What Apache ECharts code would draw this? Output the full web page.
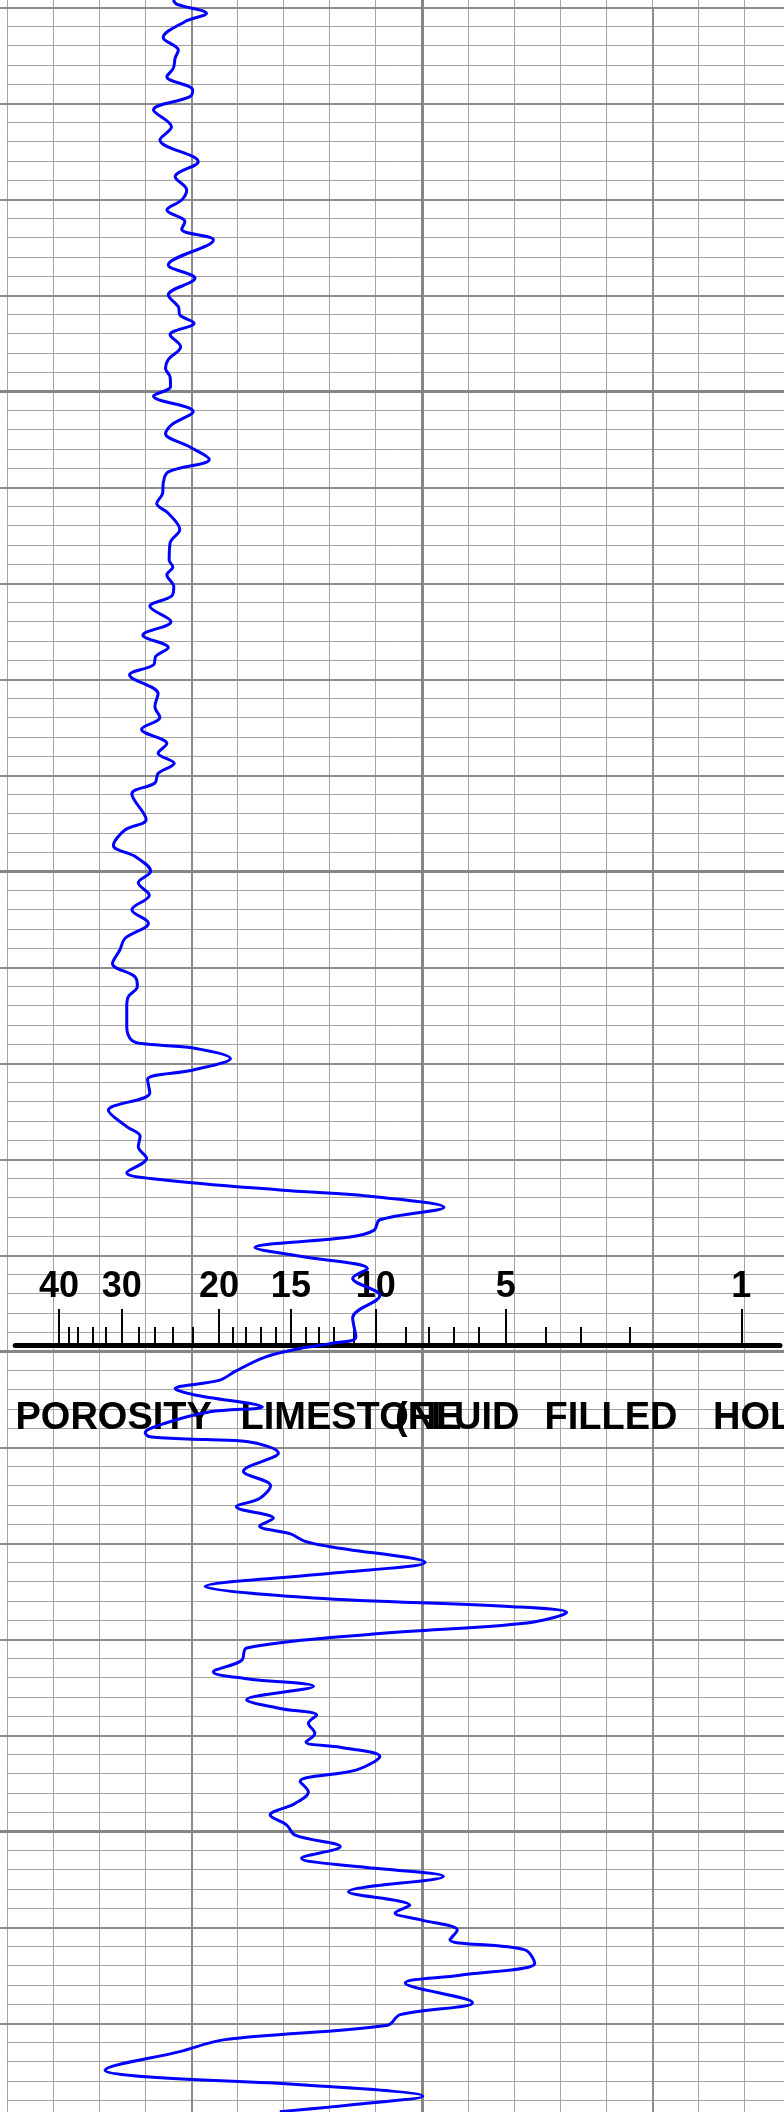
<!DOCTYPE html>
<html>
<head>
<meta charset="utf-8">
<script src="https://cdn.jsdelivr.net/npm/echarts@6/dist/echarts.min.js"></script>
<style>
html, body { margin: 0; padding: 0; background: #ffffff; }
#chart { width: 784px; height: 2112px; }
</style>
</head>
<body>
<div id="chart"></div>
<script>
// ---------------- DATA ----------------
// Depth (ft, relative to first grid line) of each curve reading
const depthFt = [
  -0.76, -0.34, 0.63, 1.5, 3.16, 4.45, 5.28, 6.35, 7.23, 8.61,
  9.31, 10.7, 12.44, 13.82, 16.08, 17.65, 19.03, 20.07, 21.11, 22.33,
  23.13, 24.24, 26.84, 28.23, 29.97, 31.2, 32.05, 32.9, 34.1, 35.35,
  36.7, 37.6, 38.5, 39.5, 40.5, 42.1, 43.5, 44.4, 45.8, 47.1,
  48.4, 49.6, 50.6, 51.7, 52.7, 54.4, 55.8, 57.6, 58.3, 59.1,
  60.35, 61.3, 62.4, 64.0, 65.4, 66.7, 67.6, 68.5, 69.55, 71.5,
  72.85, 73.96, 75.2, 76.7, 77.7, 78.75, 79.8, 80.8, 81.95, 84.6,
  85.7, 87.3, 88.5, 90.0, 91.2, 92.5, 94.0, 95.4, 97.0, 98.2,
  99.6, 101.0, 102.0, 103.1, 104.1, 106.2, 107.6, 108.0, 108.4, 109.5,
  110.7, 111.7, 113.1, 114.9, 116.6, 117.6, 118.7, 119.9, 121.4, 122.1,
  123.2, 123.9, 125.0, 126.3, 127.4, 128.1, 129.2, 130.1, 131.4, 132.4,
  134.2, 136.5, 138.5, 139.2, 139.7, 140.6, 142.1, 143.0, 143.9, 144.55,
  145.8, 146.3, 147.5, 148.5, 148.9, 149.2, 149.4, 150.6, 152.5, 154.0,
  155.3, 156.2, 157.4, 158.2, 159.0, 159.8, 160.35, 162.0, 163.1, 164.5,
  165.7, 166.6, 167.2, 168.3, 169.4, 170.9, 172.2, 173.4, 174.1, 174.9,
  176.3, 177.2, 177.9, 178.75, 179.8, 180.7, 181.25, 182.2, 183.6, 184.8,
  185.9, 187.1, 188.3, 189.35, 190.4, 191.6, 192.8, 193.7, 194.7, 196.3,
  197.7, 198.5, 199.2, 200.3, 201.3, 202.35, 203.75, 205.0, 205.8, 207.85,
  209.1, 210.2, 211.7, 212.95, 214.9, 215.6, 216.4, 217.6, 218.5, 219.2
];
// Neutron curve reading in track units (10 units per chart division)
const neutronReading = [
  36.1, 36.8, 43.3, 38.6, 33.9, 37.2, 36.5, 36.1, 34.7, 40.3,
  39.7, 31.8, 35.7, 33.2, 41.5, 36.5, 39.0, 37.9, 34.7, 38.6,
  37.9, 44.8, 35.0, 40.8, 35.0, 37.2, 37.5, 40.6, 35.4, 37.7,
  35.0, 34.4, 35.4, 35.5, 31.8, 40.4, 35.7, 34.4, 39.7, 43.9,
  35.0, 33.9, 33.8, 32.5, 35.0, 37.5, 35.4, 35.2, 36.0, 34.7,
  36.2, 35.8, 31.0, 35.6, 29.5, 35.0, 32.3, 31.8, 26.6, 32.8,
  32.1, 33.2, 29.2, 34.7, 32.8, 36.3, 32.8, 32.1, 27.1, 30.2,
  25.6, 23.1, 28.0, 31.2, 28.5, 30.9, 27.1, 30.7, 25.6, 24.5,
  22.9, 27.8, 28.3, 26.3, 26.0, 26.0, 27.1, 30.3, 40.4, 48.5,
  40.4, 30.5, 31.0, 22.0, 26.0, 28.9, 28.5, 30.3, 26.0, 33.2,
  59.2, 79.8, 94.8, 80.9, 79.6, 74.4, 53.8, 63.6, 78.2, 75.0,
  80.9, 75.0, 75.7, 70.1, 63.6, 56.0, 49.5, 46.2, 36.5, 40.8,
  55.4, 44.1, 34.3, 30.0, 31.0, 43.0, 52.0, 58.9, 51.3, 57.2,
  54.9, 49.8, 57.8, 54.8, 61.4, 64.7, 70.1, 90.7, 70.8, 43.0,
  66.5, 109.8, 121.4, 112.8, 80.9, 52.0, 50.9, 44.8, 52.0, 66.5,
  52.0, 59.2, 67.2, 65.4, 66.8, 64.9, 72.3, 80.9, 75.9, 63.6,
  65.4, 62.5, 57.1, 60.7, 62.5, 72.3, 63.9, 76.6, 94.7, 74.1,
  87.4, 84.2, 89.6, 97.7, 96.1, 112.4, 114.5, 98.3, 86.4, 101.0,
  85.3, 82.6, 47.3, 37.5, 21.3, 31.0, 63.6, 90.2, 74.4, 59.2
];
// Porosity overlay scale: porosity values and where they fall on the track (track units)
const porosityScaleValues = [40, 38, 36, 34, 32, 30, 28, 26, 24, 22, 20, 19, 18, 17, 16, 15, 14, 13, 12, 11, 10, 9, 8, 7, 6, 5, 4, 3, 2, 1];
const porosityScalePositions = [11.3, 13.5, 15.3, 18.6, 21.5, 24.9, 28.5, 32.0, 35.9, 40.3, 46.0, 48.9, 51.9, 55.1, 58.3, 61.6, 64.9, 67.7, 71.0, 75.3, 80.0, 86.5, 91.5, 96.9, 102.3, 108.2, 116.8, 124.5, 135.2, 159.3];
const porosityLabelValues = [40, 30, 20, 15, 10, 5, 1];
const captionWords = ['POROSITY', 'LIMESTONE', '(FLUID', 'FILLED', 'HOLE'];

// ---------------- LAYOUT ----------------
const W = 784, H = 2112;
const X0 = 6.9, PX_PER_UNIT = 4.61;   // track unit -> px
const Y0 = 7.3, PX_PER_FT = 9.6;      // ft -> px
function box(xMin, xMax, dMin, dMax) {
  return {
    left: X0 + xMin * PX_PER_UNIT,
    right: W - (X0 + xMax * PX_PER_UNIT),
    top: Y0 + dMin * PX_PER_FT,
    bottom: H - (Y0 + dMax * PX_PER_FT),
    containLabel: false,
    outerBoundsMode: 'none',
    show: false
  };
}
const SCALE_AXIS_Y = 1345;
const scaleMin = 1.8, scaleMax = 167.7;
const scaleBox = {
  left: X0 + scaleMin * PX_PER_UNIT,
  right: W - (X0 + scaleMax * PX_PER_UNIT),
  top: 1200,
  bottom: H - SCALE_AXIS_Y,
  containLabel: false,
  outerBoundsMode: 'none',
  show: false
};

const majorPos = porosityLabelValues.map(v => porosityScalePositions[porosityScaleValues.indexOf(v)]);
const minorPos = porosityScalePositions.filter((p, i) => porosityLabelValues.indexOf(porosityScaleValues[i]) < 0);
function porosityAt(pos) {
  let best = 0;
  for (let i = 1; i < porosityScalePositions.length; i++) {
    if (Math.abs(porosityScalePositions[i] - pos) < Math.abs(porosityScalePositions[best] - pos)) best = i;
  }
  return String(porosityScaleValues[best]);
}

function hiddenParts() {
  return {
    axisLine: { show: false }, axisTick: { show: false }, axisLabel: { show: false },
    minorTick: { show: false }, minorSplitLine: { show: false }
  };
}
function gridAxisX(gi, min, max, interval, color, width, z) {
  return Object.assign({ gridIndex: gi, type: 'value', min, max, interval, z,
    splitLine: { show: true, lineStyle: { color, width } } }, hiddenParts());
}
function gridAxisY(gi, min, max, interval, color, width, z) {
  return Object.assign({ gridIndex: gi, type: 'value', inverse: true, min, max, interval, z,
    splitLine: { show: true, lineStyle: { color, width } } }, hiddenParts());
}
const MINOR = '#a4a4a4', MEDIUM = '#8c8c8c', MAJOR = '#858585';
const labelFont = { color: '#000', fontSize: 36, fontWeight: 'bold', fontFamily: '"Liberation Sans", Arial, sans-serif' };

const captionX = [15.5, 240.5, 395, 544.5, 713];

const option = {
  animation: false,
  backgroundColor: '#ffffff',
  grid: [
    box(0, 170, -2, 220),        // minor lines + curve
    box(-10, 190, 0, 220),       // medium lines
    box(-10, 190, -10, 240),     // major lines
    scaleBox,                    // porosity scale: short ticks + baseline
    scaleBox                     // porosity scale: long ticks + labels
  ],
  xAxis: [
    gridAxisX(0, 0, 170, 10, MINOR, 1, 1),
    gridAxisX(1, 0, 200, 50, MEDIUM, 2, 2),
    gridAxisX(2, 0, 200, 100, MAJOR, 3, 3),
    {
      gridIndex: 3, type: 'value', min: scaleMin, max: scaleMax, z: 6,
      splitLine: { show: false }, minorTick: { show: false }, minorSplitLine: { show: false },
      axisLine: { show: true, onZero: false, lineStyle: { color: '#000', width: 5 } },
      axisTick: { show: true, inside: true, length: 18, customValues: minorPos, lineStyle: { color: '#000', width: 2 } },
      axisLabel: { show: false }
    },
    {
      gridIndex: 4, type: 'value', min: scaleMin, max: scaleMax, z: 6,
      splitLine: { show: false }, minorTick: { show: false }, minorSplitLine: { show: false },
      axisLine: { show: false, onZero: false },
      axisTick: { show: true, inside: true, length: 36, customValues: majorPos, lineStyle: { color: '#000', width: 2 } },
      axisLabel: Object.assign({ show: true, inside: true, margin: 40, customValues: majorPos, formatter: porosityAt,
        showMinLabel: true, showMaxLabel: true, hideOverlap: false }, labelFont)
    }
  ],
  yAxis: [
    gridAxisY(0, -2, 220, 2, MINOR, 1, 1),
    gridAxisY(1, 0, 220, 10, MEDIUM, 2, 2),
    gridAxisY(2, 0, 250, 50, MAJOR, 3, 3),
    Object.assign({ gridIndex: 3, type: 'value', min: 0, max: 1, splitLine: { show: false } }, hiddenParts()),
    Object.assign({ gridIndex: 4, type: 'value', min: 0, max: 1, splitLine: { show: false } }, hiddenParts())
  ],
  graphic: captionWords.map((w, i) => ({
    type: 'text', z: 7,
    style: { text: w, x: captionX[i], y: 1437.6, verticalAlign: 'bottom', align: 'left',
      fill: '#000', font: 'bold 38px "Liberation Sans", Arial, sans-serif' }
  })),
  series: [{
    type: 'line',
    xAxisIndex: 0, yAxisIndex: 0,
    data: depthFt.map((d, i) => [neutronReading[i], d]),
    symbol: 'none', showSymbol: false,
    smooth: 0.35,
    lineStyle: { color: '#0000ff', width: 3 },
    z: 10
  }]
};

const chart = echarts.init(document.getElementById('chart'), null, { renderer: 'canvas', width: W, height: H });
chart.setOption(option);
</script>
</body>
</html>
